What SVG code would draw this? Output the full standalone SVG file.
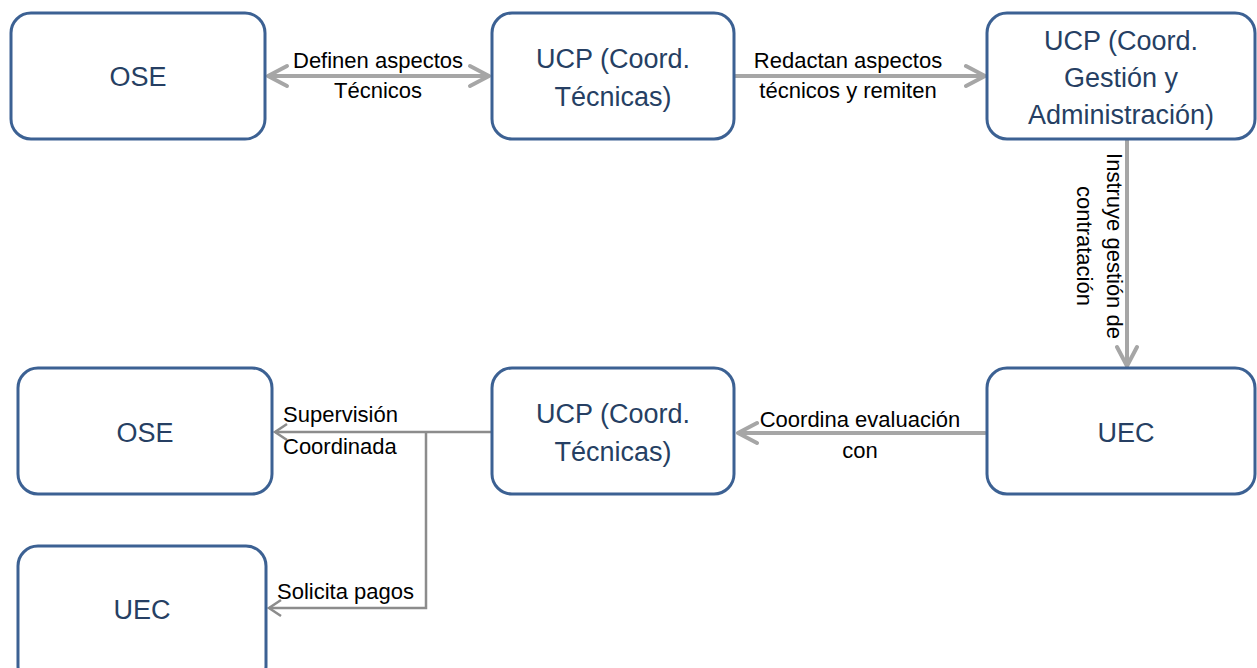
<svg xmlns="http://www.w3.org/2000/svg" width="1257" height="668" viewBox="0 0 1257 668">
<style>
.box{fill:#fff;stroke:#3C6193;stroke-width:3}
.nt{font-family:"Liberation Sans",Arial,sans-serif;font-size:27px;fill:#263F63;text-anchor:middle}
.et{font-family:"Liberation Sans",Arial,sans-serif;font-size:22px;fill:#000}
.c{fill:none;stroke:#A6A6A6;stroke-width:4;stroke-linecap:round;stroke-linejoin:round}
.t{fill:none;stroke:#8C8C8C;stroke-width:2.5;stroke-linejoin:miter}
</style>
<rect width="1257" height="668" fill="#fff"/>
<g id="connectors">
  <path class="c" d="M268,76 H489 M287,66 L268,76 L287,86 M470,66 L489,76 L470,86"/>
  <path class="c" d="M735,76 H985 M966,66 L985,76 L966,86"/>
  <path class="c" d="M1127,140 V366 M1117,347 L1127,366 L1137,347"/>
  <path class="c" d="M985,433 H738 M757,423 L738,433 L757,443"/>
  <path class="t" d="M492,432 H275 M426,432 V608 H269"/>
  <path class="t" d="M287,424 L275,432 L287,440 M281,600 L269,608 L281,616"/>
  <text class="et" x="378" y="68" text-anchor="middle">Definen aspectos</text>
  <text class="et" x="378" y="98" text-anchor="middle">Técnicos</text>
  <text class="et" x="848" y="68" text-anchor="middle">Redactan aspectos</text>
  <text class="et" x="848" y="98" text-anchor="middle">técnicos y remiten</text>
  <text class="et" transform="translate(1107,246) rotate(90)" text-anchor="middle"><tspan x="0" y="0">Instruye gestión de</tspan><tspan x="0" y="30">contratación</tspan></text>
  <text class="et" x="860" y="427" text-anchor="middle">Coordina evaluación</text>
  <text class="et" x="860" y="458" text-anchor="middle">con</text>
  <text class="et" x="283" y="422">Supervisión</text>
  <text class="et" x="283" y="454">Coordinada</text>
  <text class="et" x="277" y="599">Solicita pagos</text>
</g>
<g id="ose-top"><rect class="box" x="11" y="13" width="254" height="126" rx="20"/><text class="nt" x="138" y="86">OSE</text></g>
<g id="ucp-tec-top"><rect class="box" x="492" y="13" width="242" height="126" rx="20"/><text class="nt" x="613" y="68">UCP (Coord.</text><text class="nt" x="613" y="106">Técnicas)</text></g>
<g id="ucp-gest"><rect class="box" x="987" y="13" width="268" height="126" rx="20"/><text class="nt" x="1121" y="50">UCP (Coord.</text><text class="nt" x="1121" y="87">Gestión y</text><text class="nt" x="1121" y="124">Administración)</text></g>
<g id="uec-right"><rect class="box" x="987" y="368" width="268" height="126" rx="20"/><text class="nt" x="1126" y="442">UEC</text></g>
<g id="ucp-tec-bottom"><rect class="box" x="492" y="368" width="242" height="126" rx="20"/><text class="nt" x="613" y="423">UCP (Coord.</text><text class="nt" x="613" y="461">Técnicas)</text></g>
<g id="ose-bottom"><rect class="box" x="18" y="368" width="254" height="126" rx="20"/><text class="nt" x="145" y="442">OSE</text></g>
<g id="uec-bottom"><rect class="box" x="18" y="546" width="248" height="140" rx="20"/><text class="nt" x="142" y="619">UEC</text></g>
</svg>
